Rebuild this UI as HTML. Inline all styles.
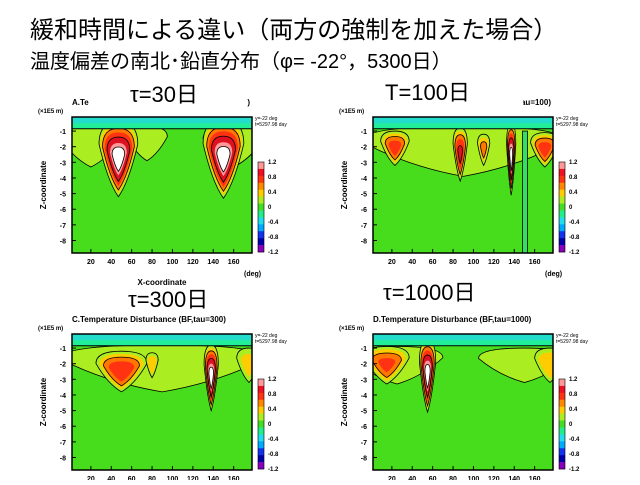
<!DOCTYPE html>
<html><head><meta charset="utf-8"><style>
body{margin:0;background:#fff;width:640px;height:480px;overflow:hidden;font-family:"Liberation Sans","Noto Sans CJK JP",sans-serif}
svg text{font-family:"Liberation Sans","Noto Sans CJK JP",sans-serif}
</style></head><body>
<svg id="s" width="640" height="480">
<text x="30" y="38" font-size="24">緩和時間による違い（両方の強制を加えた場合）</text>
<text x="30" y="68" font-size="20">温度偏差の南北･鉛直分布（φ= -22°，5300日）</text>
</svg>
<script>
const levels=[0.2,0.4,0.6,0.8,1.0,1.2,1.3];
const levelColors=["#aaee22","#ffcc00","#ff7700","#ff3311","#dd1122","#ff9999","#ffffff"];
const cbarColors=["#ff9999","#ee1122","#ff3311","#ff8800","#ffcc00","#aaee22","#44dd22","#22ee88","#22ddee","#00aaff","#1133ee","#0000aa","#8800bb"];
const cbarLabels=["1.2","0.8","0.4","0","-0.4","-0.8","-1.2"];
const xTicks=[20,40,60,80,100,120,140,160];
const zTicks=[-1,-2,-3,-4,-5,-6,-7,-8];
// blobs: [x deg, z center, half-width deg, half-depth, amplitude]
const blobsA=[[20,-2,30,1.3,0.28],[160,-2,30,1.3,0.28],[75,-1.8,20,1.1,0.28],[47,-2.8,19,2.4,1.38],[150,-2.8,20,2.5,1.38]];
const blobsB=[[90,-2.3,100,1.6,0.28],[23,-2.1,14,1.1,0.9],[87,-2.5,7,1.7,1.05],[110,-2.2,6,1.0,0.7],[137,-2.8,4.5,2.3,1.38],[170,-2.2,14,1.1,0.9]];
const blobsC=[[90,-2.3,100,1.5,0.28],[50,-2.5,25,1.3,0.95],[80,-2.1,6,0.8,0.6],[138,-2.9,7,2.1,1.38],[175,-2.1,12,1.1,0.5]];
const blobsD=[[25,-2.1,45,1.2,0.3],[150,-2.1,45,1.1,0.3],[15,-2.1,22,1.2,0.85],[55,-2.8,8,2.3,1.38],[175,-2.1,15,1.1,0.6]];
const panels=[
 {id:"a",x:72,y:117,title:"A.Te",tauTitle:"τ=30日",tx:130,ty:102,right:")",blobs:blobsA,xlabel:true},
 {id:"b",x:373,y:117,title:"",tauTitle:"T=100日",tx:385,ty:100,right:"tau=100)",blobs:blobsB,xlabel:false},
 {id:"c",x:72,y:334,title:"C.Temperature Disturbance (BF,tau=300)",tauTitle:"τ=300日",tx:128,ty:307,right:"",blobs:blobsC,xlabel:false},
 {id:"d",x:373,y:334,title:"D.Temperature Disturbance (BF,tau=1000)",tauTitle:"τ=1000日",tx:383,ty:300,right:"",blobs:blobsD,xlabel:false}];
const NS="http://www.w3.org/2000/svg",svg=document.getElementById("s");
function mk(t,a,p){const e=document.createElementNS(NS,t);for(const k in a)e.setAttribute(k,a[k]);(p||svg).appendChild(e);return e;}
const W=180,H=136,X0=1.5,X1=178,Z0=-0.1,Z1=-8.8;
panels.forEach(P=>{
 const g=mk("g",{});
 
 
 const sx=v=>P.x+(v-X0)/(X1-X0)*W, sz=v=>P.y+(v-Z0)/(Z1-Z0)*H;
 const cp=mk("clipPath",{id:"cp"+P.id},g);mk("rect",{x:P.x,y:P.y,width:W,height:H},cp);
 const pg=mk("g",{"clip-path":"url(#cp"+P.id+")"},g);
 mk("rect",{x:P.x,y:P.y,width:W,height:H,fill:"#48dd1c"},pg);
 levels.forEach((L,i)=>{
  P.blobs.forEach(b=>{
   if(b[4]<=L)return;
   const f=Math.sqrt(Math.max(0.02,1-(L-0.2)/(b[4]-0.15)));
   const cx=sx(b[0]),cy=sz(b[1]),rx=(sx(b[0]+b[2])-cx)*f,ry=(sz(b[1]-b[3])-cy)*f;
   const d=`M${cx-rx},${cy-ry*0.4} Q${cx-rx},${cy-ry} ${cx},${cy-ry} Q${cx+rx},${cy-ry} ${cx+rx},${cy-ry*0.4} Q${cx+rx*0.55},${cy+ry*0.6} ${cx},${cy+ry} Q${cx-rx*0.55},${cy+ry*0.6} ${cx-rx},${cy-ry*0.4}Z`;
   const e=mk("path",{d:d,fill:levelColors[i],stroke:(i%2==0)?"#000":"none","stroke-width":0.8},pg);
   
   
  });
 });
 if(P.id=="b"){mk("rect",{x:sx(148),y:sz(-1),width:sx(153)-sx(148),height:H,fill:"#33e060",stroke:"#000","stroke-width":0.8},pg);}
 mk("rect",{x:P.x,y:P.y,width:W,height:sz(-0.85)-P.y,fill:"#22ee99"},pg);
 mk("rect",{x:P.x,y:P.y,width:W,height:sz(-0.5)-P.y,fill:"#22ddcc"},pg);
 mk("line",{x1:P.x,x2:P.x+W,y1:sz(-0.85),y2:sz(-0.85),stroke:"#000","stroke-width":1},pg);
 mk("rect",{x:P.x,y:P.y,width:W,height:H,fill:"none",stroke:"#000","stroke-width":1.5},g);
 zTicks.forEach(z=>{mk("line",{x1:P.x,x2:P.x+4,y1:sz(z),y2:sz(z),stroke:"#000"},g);
  const t=mk("text",{x:P.x-6,y:sz(z)+3,"font-size":7,"text-anchor":"end","font-weight":"bold"},g);t.textContent=z;});
 xTicks.forEach(x=>{mk("line",{x1:sx(x),x2:sx(x),y1:P.y+H,y2:P.y+H-4,stroke:"#000"},g);
  const t=mk("text",{x:sx(x),y:P.y+H+11,"font-size":7,"text-anchor":"middle","font-weight":"bold"},g);t.textContent=x;});
 let t=mk("text",{x:P.x+W-8,y:P.y+H+23,"font-size":7,"font-weight":"bold"},g);t.textContent="(deg)";
 t=mk("text",{x:P.x-34,y:P.y-4,"font-size":6,"font-weight":"bold"},g);t.textContent="(×1E5 m)";
 t=mk("text",{x:0,y:0,"font-size":8,"font-weight":"bold",transform:`translate(${P.x-26},${P.y+H/2}) rotate(-90)`,"text-anchor":"middle"},g);t.textContent="Z-coordinate";
 
 if(P.xlabel){t=mk("text",{x:P.x+W/2,y:P.y+H+32,"font-size":8,"font-weight":"bold","text-anchor":"middle"},g);t.textContent="X-coordinate";}
 t=mk("text",{x:P.x+W+3,y:P.y+3,"font-size":5},g);t.textContent="y=-22 deg";
 t=mk("text",{x:P.x+W+3,y:P.y+9,"font-size":5},g);t.textContent="t=5297.98 day";
 t=mk("text",{x:P.x,y:P.y-12,"font-size":8,"font-weight":"bold"},g);t.textContent=P.title;
 t=mk("text",{x:P.x+W-2,y:P.y-12,"font-size":8,"font-weight":"bold","text-anchor":"end"},g);t.textContent=P.right;
 if(P.id=="a"||P.id=="b"){mk("rect",{x:P.x+30,y:P.y-30,width:120,height:28,fill:"#fff"},g);}
 t=mk("text",{x:P.tx,y:P.ty,"font-size":22},svg);t.textContent=P.tauTitle;
 
 const cbx=P.x+W+6,cby=P.y+45,sh=90/cbarColors.length;
 cbarColors.forEach((c,i)=>{const r=mk("rect",{x:cbx,y:cby+i*sh,width:6,height:sh+0.3,fill:c},g);
  });
 mk("rect",{x:cbx,y:cby,width:6,height:90,fill:"none",stroke:"#000","stroke-width":0.6},g);
 cbarLabels.forEach((l,i)=>{t=mk("text",{x:cbx+10,y:cby+2+i*15,"font-size":6,"font-weight":"bold"},g);t.textContent=l;});
});
</script>
</body></html>
